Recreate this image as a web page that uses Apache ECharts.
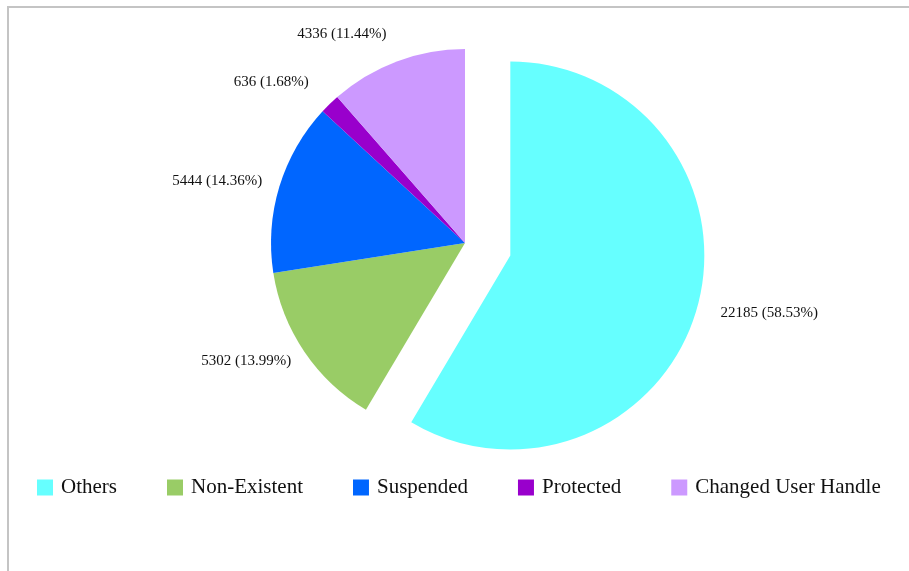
<!DOCTYPE html>
<html>
<head>
<meta charset="utf-8">
<script src="https://cdn.jsdelivr.net/npm/echarts@6/dist/echarts.min.js"></script>
<style>
    html, body { margin: 0; padding: 0; background: #fff; }
    #pie1 { width: 909px; height: 571px; }
</style>
</head>
<body>
<div id="pie1"></div>
<script>
// categories / values
var cate = ['Others', 'Non-Existent', 'Suspended', 'Protected', 'Changed User Handle'];
var value = [22185, 5302, 5444, 636, 4336];
var colors = ['#66ffff', '#99cc66', '#0066ff', '#9900cc', '#cc99ff'];
// label line length per slice (style only)
var lineLen = [24, 16, 18, 30, 29];

var myPie = echarts.init(document.getElementById('pie1'));

var pieData = [];
for (var i = 0; i < cate.length; i++) {
    pieData.push({
        name: cate[i],
        value: value[i],
        selected: i === 0,   //Others 分离出来
        itemStyle: { color: colors[i] },
        labelLine: { show: false, length: lineLen[i], length2: 0 }
    });
}

var option = {
    backgroundColor: '#ffffff',
    animation: false,
    graphic: [{
        type: 'rect',
        shape: { x: 8, y: 7, width: 1000, height: 1000 },
        style: { fill: 'none', stroke: '#c4c4c4', lineWidth: 2 },
        silent: true
    }],
    legend: {
        data: cate,
        left: 37,
        top: 477,
        padding: 0,
        icon: 'rect',
        itemWidth: 16,
        itemHeight: 16,
        itemGap: 50,
        selectedMode: false,
        textStyle: {
            fontFamily: 'Liberation Serif',
            fontSize: 21,
            color: '#111',
            padding: [0, 0, 0, 3]
        }
    },
    series: [{
        type: 'pie',
        center: [465, 243],
        radius: 194,
        startAngle: 90,
        clockwise: true,
        selectedMode: 'single',
        selectedOffset: 47,
        avoidLabelOverlap: false,
        emphasis: { disabled: true },
        label: {
            show: true,
            position: 'outside',
            formatter: '{c} ({d}%)',
            distanceToLabelLine: 0,
            fontFamily: 'Liberation Serif',
            fontSize: 15,
            color: '#111'
        },
        data: pieData
    }]
};

myPie.setOption(option);
</script>
</body>
</html>
